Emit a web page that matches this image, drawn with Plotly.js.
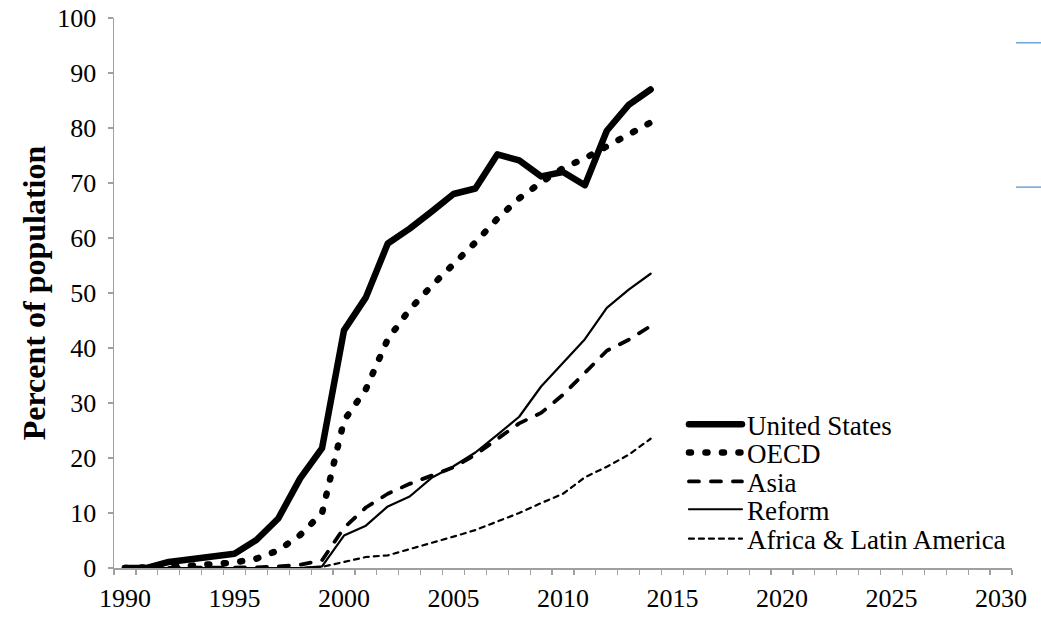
<!DOCTYPE html>
<html>
<head>
<meta charset="utf-8">
<script src="https://cdn.plot.ly/plotly-3.0.1.min.js"></script>
<style>
  html, body { margin: 0; padding: 0; background: #fff; }
  #chart { width: 1041px; height: 619px; }
  .js-line { stroke-linecap: round; stroke-linejoin: round; }
</style>
</head>
<body>
<div id="chart"></div>
<script>
const years = [1990, 1991, 1992, 1993, 1994, 1995, 1996, 1997, 1998, 1999, 2000, 2001, 2002,
               2003, 2004, 2005, 2006, 2007, 2008, 2009, 2010, 2011, 2012, 2013, 2014];
const unitedStates = [0, 0, 1.1, 1.6, 2.0, 2.6, 5.1, 9.0, 16.3, 21.8, 43.2, 49.2, 59.0,
                      61.7, 64.8, 68.0, 69.0, 75.2, 74.1, 71.2, 72.0, 69.6, 79.5, 84.2, 87.0];
const oecd = [0, 0, 0.2, 0.4, 0.6, 1.0, 1.7, 3.2, 6.0, 10.0, 26.8, 32.5, 41.6,
              47.0, 51.3, 55.2, 59.2, 63.5, 67.2, 70.1, 72.7, 74.5, 76.7, 78.7, 81.0];
const asia = [0, 0, 0, 0, 0, 0, 0.1, 0.3, 0.6, 1.4, 7.3, 11.0, 13.5,
              15.3, 16.8, 18.3, 20.6, 23.5, 26.3, 28.2, 31.5, 35.5, 39.5, 41.5, 44.0];
const reform = [0, 0, 0, 0, 0, 0, 0, 0, 0, 0.3, 5.9, 7.7, 11.2,
                13.0, 16.4, 18.5, 21.0, 24.2, 27.5, 33.0, 37.3, 41.6, 47.3, 50.6, 53.5];
const africaLatAm = [0, 0, 0, 0, 0, 0, 0, 0, 0, 0.2, 1.1, 2.0, 2.3,
                     3.4, 4.6, 5.7, 6.9, 8.4, 10.0, 11.8, 13.5, 16.5, 18.4, 20.6, 23.5];
const seriesNames = ['United States', 'OECD', 'Asia', 'Reform', 'Africa & Latin America'];
const xTickVals = [1990, 1995, 2000, 2005, 2010, 2015, 2020, 2025, 2030];
const xTickText = ['1990', '1995', '2000', '2005', '2010', '2015', '2020', '2025', '2030'];
const yTickVals = [0, 10, 20, 30, 40, 50, 60, 70, 80, 90, 100];

const FONT = '"Liberation Serif", "Times New Roman", Times, serif';
const allSeries = [unitedStates, oecd, asia, reform, africaLatAm];
const lineStyles = [
  {color: '#000', width: 6.5, dash: 'solid'},
  {color: '#000', width: 6.5, dash: '2px,14.5px'},
  {color: '#000', width: 3.8, dash: '10px,12px'},
  {color: '#000', width: 2.2, dash: 'solid'},
  {color: '#000', width: 2.2, dash: '5px,5px'}
];
const legendIds = ['legend', 'legend2', 'legend3', 'legend4', 'legend5'];

const traces = allSeries.map((vals, i) => ({
  type: 'scatter', mode: 'lines', x: years, y: vals, name: seriesNames[i],
  line: lineStyles[i], legend: legendIds[i], cliponaxis: false, hoverinfo: 'skip'
}));

const legendYs = [0.2605, 0.209, 0.1565, 0.106, 0.0525];
const layout = {
  width: 1041, height: 619,
  margin: {l: 114, r: 29, t: 18, b: 51},
  paper_bgcolor: '#fff', plot_bgcolor: '#fff',
  font: {family: FONT, color: '#000', size: 26},
  showlegend: true,
  xaxis: {
    range: [1989.5, 2030.5], tickmode: 'array', tickvals: xTickVals, ticktext: xTickText,
    ticks: '', showgrid: false, zeroline: false, showline: true, linecolor: '#a0a0a0',
    linewidth: 1.5, layer: 'below traces', tickfont: {family: FONT, size: 26, color: '#000'},
    ticklabelstandoff: 6,
    minor: {tick0: 1989.5, dtick: 1, ticks: 'outside', ticklen: 5, tickcolor: '#a0a0a0', tickwidth: 1.2, showgrid: false}
  },
  yaxis: {
    range: [0, 100], tickmode: 'array', tickvals: yTickVals, ticks: 'outside', ticklen: 5,
    tickcolor: '#a0a0a0', tickwidth: 1.2, showgrid: false, zeroline: false, showline: true,
    linecolor: '#a0a0a0', linewidth: 1.5, layer: 'below traces',
    tickfont: {family: FONT, size: 26, color: '#000'}, ticklabelstandoff: 6,
    title: {text: 'Percent of population', font: {family: FONT, size: 32, weight: 'bold', color: '#000'}, standoff: 2}
  },
  shapes: [
    {type: 'line', xref: 'paper', yref: 'paper', x0: 1.0045, x1: 1.04, y0: 0.955, y1: 0.955, line: {color: '#6fa3d8', width: 1.5}},
    {type: 'line', xref: 'paper', yref: 'paper', x0: 1.0045, x1: 1.04, y0: 0.6925, y1: 0.6925, line: {color: '#6fa3d8', width: 1.5}}
  ]
};
legendIds.forEach((id, i) => {
  layout[id] = {
    x: 0.6347, xanchor: 'left', y: legendYs[i], yanchor: 'middle',
    bgcolor: 'rgba(0,0,0,0)', borderwidth: 0, itemwidth: 53,
    font: {family: FONT, size: 27, color: '#000'}
  };
});

Plotly.newPlot('chart', traces, layout, {staticPlot: true, displayModeBar: false});
</script>
</body>
</html>
